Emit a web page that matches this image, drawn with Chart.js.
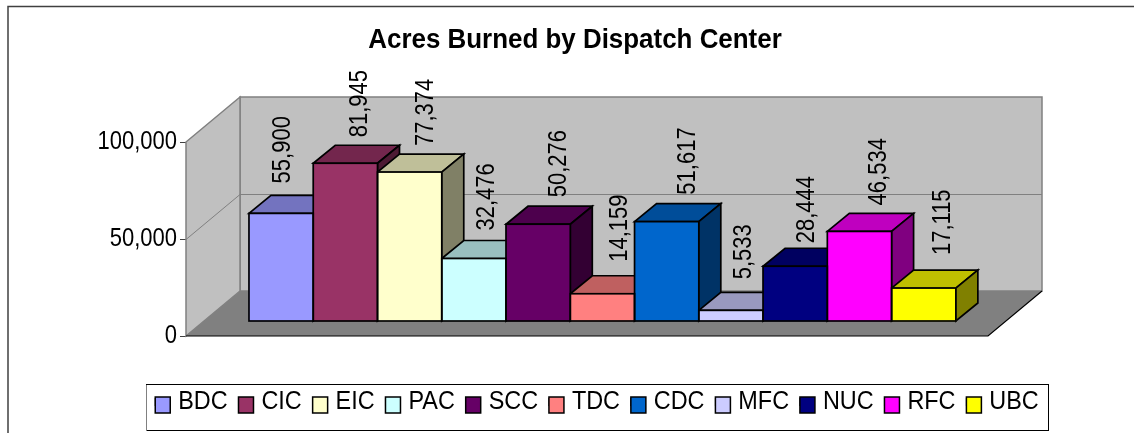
<!DOCTYPE html>
<html><head><meta charset="utf-8">
<style>html,body{margin:0;padding:0;background:#fff}#w{width:1134px;height:433px}</style>
<script src="https://cdn.jsdelivr.net/npm/chart.js@4"></script>
</head><body><div id="w"><canvas id="c" width="1134" height="433"></canvas></div>
<script>
const titleText = "Acres Burned by Dispatch Center";
const categories = ["BDC","CIC","EIC","PAC","SCC","TDC","CDC","MFC","NUC","RFC","UBC"];
const acres = [55900,81945,77374,32476,50276,14159,51617,5533,28444,46534,17115];
const frontColors = ["#9999FF","#993366","#FFFFCC","#CCFFFF","#660066","#FF8080","#0066CC","#CCCCFF","#000080","#FF00FF","#FFFF00"];
const yTicks = [0,50000,100000];
const labelDx = [2,15,16,13,21,18,21,13,12,20,19];
const labelDy = [30,26,26,28,27,32,27,31,23,26,33];

const DX = 22, DY = -18;           // bar depth
const WALL_DX = 54, WALL_DY = -45; // box depth
const FONT = '"Liberation Sans", Arial, sans-serif';
const SQUEEZE = 0.88, LEGEND_SQUEEZE = 0.9, TITLE_SQUEEZE = 0.926; // the reference's type is taller than it is wide
const LEGEND_CX = 597;

function shade(hex, k){
  const n = parseInt(hex.slice(1),16);
  const f = v => Math.round(v*k);
  return `rgb(${f(n>>16&255)},${f(n>>8&255)},${f(n&255)})`;
}
function poly(ctx, pts, fill, stroke, lw){
  ctx.beginPath();
  pts.forEach((p,i)=> i?ctx.lineTo(p[0],p[1]):ctx.moveTo(p[0],p[1]));
  ctx.closePath();
  if(fill){ctx.fillStyle=fill;ctx.fill();}
  if(stroke){ctx.strokeStyle=stroke;ctx.lineWidth=lw;ctx.lineJoin='miter';ctx.stroke();}
}
function squeezeDraw(obj, method, ctx, cx, k){
  const orig = obj[method];
  obj[method] = function(...args){
    ctx.save();
    ctx.translate(cx,0);ctx.scale(k,1);ctx.translate(-cx,0);
    orig.apply(this,args);
    ctx.restore();
  };
}

const scene = {
  id:'scene',
  afterLayout(chart){
    const ctx=chart.ctx;
    if(chart.titleBlock){
      chart.titleBlock.left-=22;chart.titleBlock.right-=22;
      if(!chart.$squeezed){
        squeezeDraw(chart.titleBlock,'draw',ctx,575,TITLE_SQUEEZE);
        squeezeDraw(chart.legend,'draw',ctx,LEGEND_CX,LEGEND_SQUEEZE);
        squeezeDraw(chart.scales.y,'drawLabels',ctx,chart.chartArea.left-9,SQUEEZE);
        chart.$squeezed=true;
      }
    }
  },
  beforeDatasetsDraw(chart){
    const {ctx, chartArea:a, scales:{y}} = chart;
    const x0=a.left, x1=1042-WALL_DX, b=y.getPixelForValue(0), t=y.getPixelForValue(100000);
    ctx.save();
    // outer frame
    ctx.strokeStyle='#404040';ctx.lineWidth=1.5;
    ctx.beginPath();ctx.moveTo(8,433);ctx.lineTo(8,6.5);ctx.lineTo(1134,6.5);ctx.stroke();
    // back wall
    poly(ctx,[[x0+WALL_DX,t+WALL_DY],[x1+WALL_DX,t+WALL_DY],[x1+WALL_DX,b+WALL_DY],[x0+WALL_DX,b+WALL_DY]],'#C0C0C0','#808080',1.5);
    // left wall
    poly(ctx,[[x0,t],[x0+WALL_DX,t+WALL_DY],[x0+WALL_DX,b+WALL_DY],[x0,b]],'#C0C0C0','#808080',1.5);
    // floor
    poly(ctx,[[x0,b],[x1,b],[x1+WALL_DX,b+WALL_DY],[x0+WALL_DX,b+WALL_DY]],'#808080');
    // front edges of the floor
    ctx.strokeStyle='#000';ctx.lineWidth=1.2;
    ctx.beginPath();ctx.moveTo(x0,b);ctx.lineTo(x1,b);ctx.lineTo(x1+WALL_DX,b+WALL_DY);ctx.stroke();
    // gridlines
    ctx.strokeStyle='#808080';ctx.lineWidth=1;
    yTicks.filter(v=>v>0&&v<100000).forEach(v=>{
      const p=Math.round(y.getPixelForValue(v))+0.5;
      ctx.beginPath();ctx.moveTo(x0,p);ctx.lineTo(x0+WALL_DX,p+WALL_DY);ctx.lineTo(x1+WALL_DX,p+WALL_DY);ctx.stroke();
    });
    // bar depth faces, left to right
    chart.getDatasetMeta(0).data.forEach((el,i)=>{
      const p=el.getProps(['x','y','base','width'],true);
      const l=p.x-p.width/2,r=p.x+p.width/2;
      poly(ctx,[[l,p.y],[r,p.y],[r+DX,p.y+DY],[l+DX,p.y+DY]],shade(frontColors[i],0.75),'#000',1.7);
      poly(ctx,[[r,p.y],[r+DX,p.y+DY],[r+DX,p.base+DY],[r,p.base]],shade(frontColors[i],0.5),'#000',1.7);
    });
    ctx.restore();
  },
  afterDatasetsDraw(chart){
    const {ctx, legend} = chart;
    ctx.save();
    chart.getDatasetMeta(0).data.forEach((el,i)=>{
      const p=el.getProps(['x','y','base','width'],true);
      ctx.strokeStyle='#000';ctx.lineWidth=1.7;
      ctx.strokeRect(p.x-p.width/2,p.y,p.width,p.base-p.y);
      // value labels
      ctx.save();
      ctx.translate(p.x+labelDx[i],p.y-labelDy[i]);
      ctx.rotate(-Math.PI/2);
      ctx.scale(SQUEEZE,1);
      ctx.fillStyle='#000';ctx.font='25px '+FONT;
      ctx.textAlign='left';ctx.textBaseline='middle';
      ctx.fillText(acres[i].toLocaleString('en-US'),0,0);
      ctx.restore();
    });
    // legend frame and swatches
    ctx.strokeStyle='#000';ctx.lineWidth=1;
    ctx.strokeRect(146.5,384.5,902,46);
    ctx.fillStyle='#808080';ctx.fillRect(146,385,1,46);
    legend.legendHitBoxes.forEach((h,i)=>{
      const sx=LEGEND_CX+LEGEND_SQUEEZE*(h.left-LEGEND_CX);
      ctx.fillStyle=frontColors[i];ctx.lineWidth=1.5;ctx.strokeStyle='#000';
      ctx.fillRect(sx,397,15,16);ctx.strokeRect(sx,397,15,16);
    });
    ctx.restore();
  }
};

new Chart(document.getElementById('c'),{
  type:'bar',
  data:{
    labels:categories,
    datasets:[{
      label:'Acres burned',
      data:acres.map((v,i)=>({x:i,y:v})),
      yAxisID:'yBars',
      backgroundColor:frontColors,
      borderWidth:0,
      barPercentage:1,categoryPercentage:1
    }]
  },
  plugins:[scene],
  options:{
    responsive:false,animation:false,
    layout:{padding:{left:64,right:4,top:0,bottom:8}},
    scales:{
      x:{type:'linear',offset:false,min:-1.48,max:13.21,display:true,
        ticks:{display:false},grid:{display:false},border:{display:false},
        afterFit(s){s.height=433-8-336-s.chart.legend.height;}},
      y:{type:'linear',position:'left',min:0,max:100000,
        afterBuildTicks(s){s.ticks=yTicks.map(v=>({value:v}));},
        ticks:{color:'#000',padding:3,font:{family:FONT,size:25},callback:v=>v.toLocaleString('en-US')},
        grid:{drawOnChartArea:false,drawTicks:true,tickLength:6,color:'#404040'},
        border:{display:false},
        afterFit(s){s.width=122;}},
      yBars:{type:'linear',display:false,min:-7792,max:92987}
    },
    plugins:{
      tooltip:{enabled:false},
      title:{display:true,text:titleText,color:'#000',
        font:{family:FONT,size:28,weight:'bold'},padding:{top:23,bottom:85.4}},
      legend:{display:true,position:'bottom',
        labels:{color:'#000',font:{family:FONT,size:26},boxWidth:12.5,boxHeight:8,padding:12.1,
          generateLabels(){return categories.map((c,i)=>({text:c,fillStyle:frontColors[i],strokeStyle:'#000',lineWidth:1,index:i}));}}}
    }
  }
});
</script></body></html>
